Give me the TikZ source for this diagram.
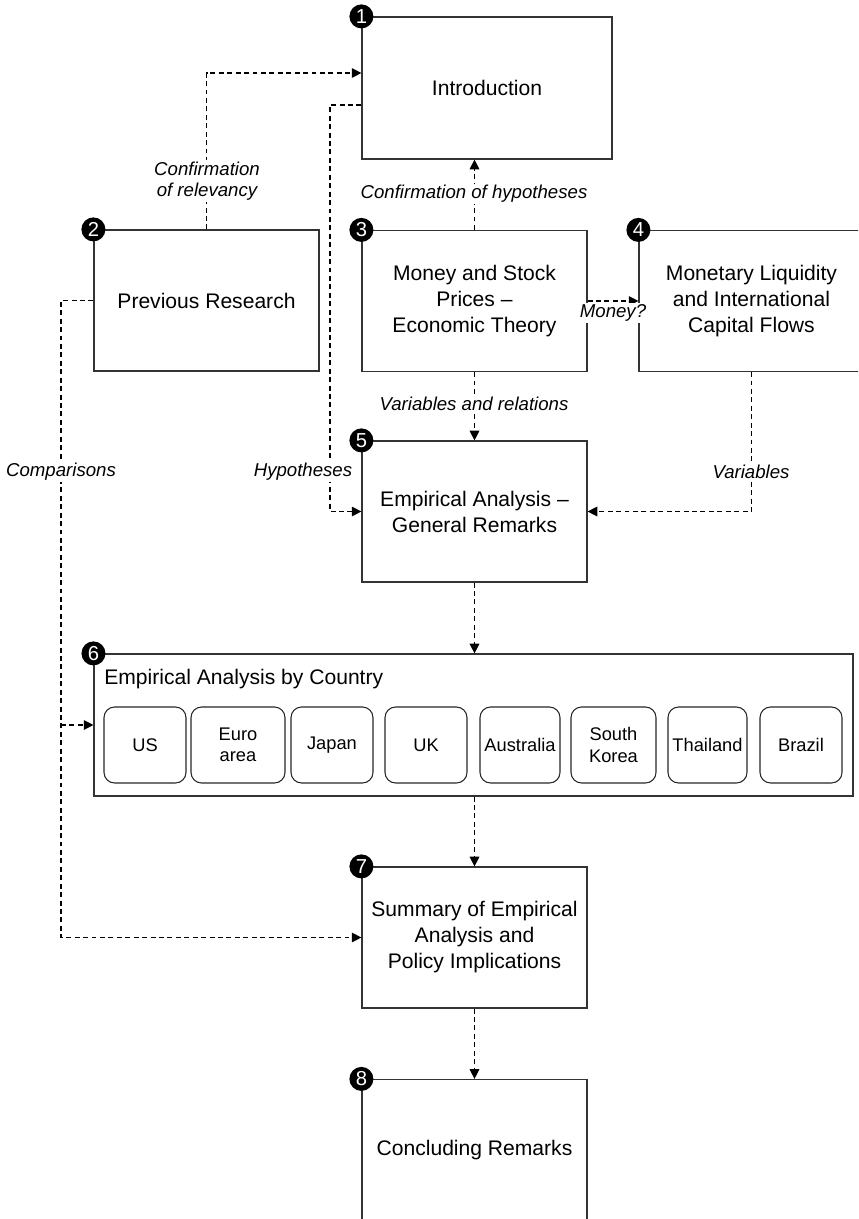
\documentclass[tikz,border=0pt]{standalone}
\usepackage{fontspec}
\setmainfont{Liberation Sans}
\usetikzlibrary{arrows.meta,calc}
\begin{document}
\begin{tikzpicture}[x=0.02cm,y=-0.02cm,
  box/.style={draw=black!80,line width=0.7pt,minimum width=4.5cm,minimum height=2.82cm,align=center,inner sep=2pt,font=\fontsize{12}{14.8}\selectfont},
  cbox/.style={draw=black!85,line width=0.6pt,rounded corners=6pt,minimum height=1.52cm,inner sep=1pt,align=center,font=\fontsize{10.4}{12}\selectfont},
  num/.style={circle,fill=black,text=white,inner sep=0pt,minimum size=0.48cm,font=\fontsize{11.5}{11.5}\selectfont},
  conn/.style={dashed,dash pattern=on 2.8pt off 2pt,line width=0.65pt,-{Triangle[length=5.5pt,width=5.5pt]}},
  lab/.style={fill=white,inner sep=1pt,align=center,font=\fontsize{10.6}{12.2}\selectfont\itshape}]
\useasboundingbox (0,0) rectangle (858,1219);
\clip (0,0) rectangle (858,1219);
% boxes
\node[box,minimum width=5cm,minimum height=2.84cm] (b1) at (487,88) {Introduction};
\node[box] (b2) at (206.5,300.5) {Previous Research};
\node[box] (b3) at (474.5,301) {Money and Stock\\Prices --\\Economic Theory};
\node[box] (b4) at (751.5,301) {Monetary Liquidity\\and International\\Capital Flows};
\node[box] (b5) at (474.5,511.5) {Empirical Analysis --\\General Remarks};
\node[box,minimum width=15.18cm,minimum height=2.84cm] (b6) at (473.5,725) {};
\node[box] (b7) at (474.5,937.5) {Summary of Empirical\\Analysis and\\Policy Implications};
\node[box] (b8) at (474.5,1150) {Concluding Remarks};
% box 6 content
\node[anchor=west,inner sep=0pt,font=\fontsize{12}{14.8}\selectfont] (t6) at (104,679) {Empirical Analysis by Country};
\node[cbox,minimum width=1.64cm] (us) at (145,745) {US};
\node[cbox,minimum width=1.88cm] (eu) at (238,745) {Euro\\area};
\node[cbox,minimum width=1.64cm] (jp) at (332,745) {Japan};
\node[cbox,minimum width=1.64cm] (uk) at (426,745) {UK};
\node[cbox,minimum width=1.6cm] (au) at (520,745) {Australia};
\node[cbox,minimum width=1.7cm] (kr) at (613.5,745) {South\\Korea};
\node[cbox,minimum width=1.58cm] (th) at (707.5,745) {Thailand};
\node[cbox,minimum width=1.64cm] (br) at (801,745) {Brazil};
% turning points
\coordinate (r1) at (207,73);
\coordinate (h1) at (330,105);
\coordinate (cmp) at (61,600);
% connectors
\draw[conn] (b2.north) -- (b2.north |- r1) -- (b1.west |- r1);
\draw[conn] (b1.west |- h1) -- (h1) |- (b5.west);
\draw[conn] (b3.north) -- (b3.north |- b1.south);
\draw[conn] (b3.east) -- (b4.west);
\draw[conn] (b3.south) -- (b5.north);
\draw[conn] (b4.south) |- (b5.east);
\draw[conn] (b2.west) -| (cmp) |- (b7.west);
\draw[conn] (b6.west -| cmp) -- (b6.west);
\draw[conn] (b5.south) -- (b6.north -| b5.south);
\draw[conn] (b6.south -| b7.north) -- (b7.north);
\draw[conn] (b7.south) -- (b8.north);
% labels
\node[lab] (l1) at (207,181) {Confirmation\\of relevancy};
\node[lab] (l2) at (474,194) {Confirmation of hypotheses};
\node[lab] (l3) at (613,313) {Money?};
\node[lab] (l4) at (474,404) {Variables and relations};
\node[lab] (l5) at (61,472) {Comparisons};
\node[lab] (l6) at (303,472) {Hypotheses};
\node[lab] (l7) at (751,472) {Variables};
% numbers
\node[num] (n1) at (b1.north west) {1};
\node[num] (n2) at (b2.north west) {2};
\node[num] (n3) at (b3.north west) {3};
\node[num] (n4) at (b4.north west) {4};
\node[num] (n5) at (b5.north west) {5};
\node[num] (n6) at (b6.north west) {6};
\node[num] (n7) at (b7.north west) {7};
\node[num] (n8) at (b8.north west) {8};
\end{tikzpicture}
\end{document}
